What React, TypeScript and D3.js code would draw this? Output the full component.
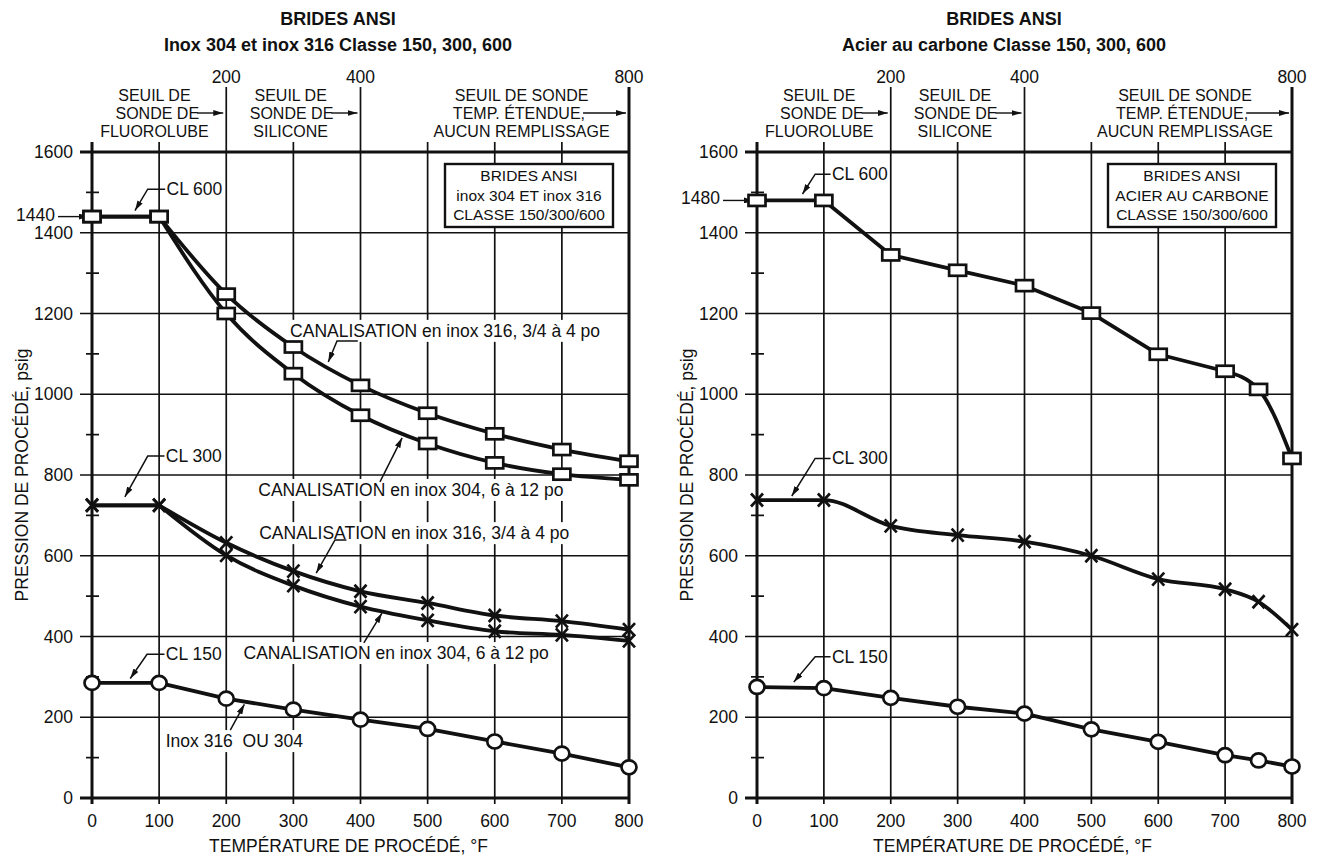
import React from "react";
import * as d3 from "d3";

// temperatures (°F)
const tempsL = [0, 100, 200, 300, 400, 500, 600, 700, 800];
const tempsR = [0, 100, 200, 300, 400, 500, 600, 700, 750, 800];

// axis ticks
const xTicks = [0, 100, 200, 300, 400, 500, 600, 700, 800];
const topLong = [200, 400, 800];
const yTicks = [0, 200, 400, 600, 800, 1000, 1200, 1400, 1600];
const yMinor = [100, 300, 500, 700, 900, 1100, 1300, 1500];

// left chart: inox 304 / 316 (psig)
const ss316Cl600 = [1440, 1440, 1248, 1117, 1022, 953, 902, 863, 834];
const ss304Cl600 = [1440, 1440, 1200, 1051, 948, 878, 830, 802, 788];
const ss316Cl300 = [725, 725, 632, 562, 512, 483, 452, 438, 417];
const ss304Cl300 = [725, 725, 601, 526, 474, 440, 413, 404, 389];
const ssCl150 = [285, 285, 246, 219, 194, 171, 140, 110, 76];

// right chart: acier au carbone (psig)
const csCl600 = [1480, 1480, 1345, 1307, 1269, 1201, 1099, 1057, 1012, 841];
const csCl300 = [738, 738, 674, 651, 635, 600, 542, 517, 486, 417];
const csCl150 = [275, 272, 248, 226, 209, 170, 139, 106, 93, 78];

const FONT = "'Liberation Sans', Arial, Helvetica, sans-serif";
const FS = 17.5;
const HFS = 16;
const OY = 152;
const H = 646;

let ctx: CanvasRenderingContext2D | null = null;
function textW(s: string, size: number) {
  if (!ctx) ctx = document.createElement("canvas").getContext("2d");
  if (!ctx) return s.length * size * 0.55;
  ctx.font = `${size}px ${FONT}`;
  return ctx.measureText(s).width;
}

type Part = [number, number, "lin" | "mono"];
type Series = { temps: number[]; values: number[]; marker: "sq" | "x" | "o"; parts: Part[] };
type Note = { text: string; at: [number, number]; path: [number, number][]; center?: boolean; bg?: boolean };
type Header = { at: number; lines: string[]; arrowFrom: number; arrowTo: number };

const leftSeries: Series[] = [
  { temps: tempsL, values: ss316Cl600, marker: "sq", parts: [[0, 1, "lin"], [1, 8, "mono"]] },
  { temps: tempsL, values: ss304Cl600, marker: "sq", parts: [[0, 1, "lin"], [1, 8, "mono"]] },
  { temps: tempsL, values: ss316Cl300, marker: "x", parts: [[0, 1, "lin"], [1, 8, "mono"]] },
  { temps: tempsL, values: ss304Cl300, marker: "x", parts: [[0, 1, "lin"], [1, 8, "mono"]] },
  { temps: tempsL, values: ssCl150, marker: "o", parts: [[0, 8, "lin"]] },
];

const rightSeries: Series[] = [
  { temps: tempsR, values: csCl600, marker: "sq", parts: [[0, 7, "lin"], [7, 9, "mono"]] },
  { temps: tempsR, values: csCl300, marker: "x", parts: [[0, 9, "mono"]] },
  { temps: tempsR, values: csCl150, marker: "o", parts: [[0, 9, "lin"]] },
];

const leftNotes: Note[] = [
  { text: "CL 600", at: [111, 1508], path: [[109, 1508], [83, 1508], [64, 1455]] },
  { text: "CL 300", at: [110, 847], path: [[108, 847], [83, 847], [49, 746]] },
  { text: "CL 150", at: [110, 356], path: [[108, 356], [82, 356], [57, 296]] },
  { text: "CANALISATION en inox 316, 3/4 à 4 po", at: [526, 1157], center: true, bg: true, path: [[396, 1132], [365, 1132], [352, 1080]] },
  { text: "CANALISATION en inox 304, 6 à 12 po", at: [475, 763], center: true, bg: true, path: [[429, 783], [462, 892]] },
  { text: "CANALISATION en inox 316, 3/4 à 4 po", at: [480, 656], center: true, bg: true, path: [[379, 639], [362, 639], [334, 557]] },
  { text: "CANALISATION en inox 304, 6 à 12 po", at: [453, 359], center: true, bg: true, path: [[405, 384], [432, 458]] },
  { text: "Inox 316\u00A0 OU 304", at: [212, 141], center: true, bg: true, path: [[206, 168], [227, 232]] },
];

const rightNotes: Note[] = [
  { text: "CL 600", at: [112, 1545], path: [[110, 1545], [87, 1545], [68, 1496]] },
  { text: "CL 300", at: [112, 841], path: [[110, 841], [87, 841], [52, 748]] },
  { text: "CL 150", at: [112, 350], path: [[110, 350], [87, 350], [55, 287]] },
];

const headers: Header[] = [
  { at: 93, lines: ["SEUIL DE", "SONDE DE", "FLUOROLUBE"], arrowFrom: 161, arrowTo: 200 },
  { at: 296, lines: ["SEUIL DE", "SONDE DE", "SILICONE"], arrowFrom: 361, arrowTo: 400 },
  { at: 640, lines: ["SEUIL DE SONDE", "TEMP. ÉTENDUE,", "AUCUN REMPLISSAGE"], arrowFrom: 736, arrowTo: 800 },
];

function Marker({ kind, x, y }: { kind: string; x: number; y: number }) {
  if (kind === "sq")
    return <rect x={x - 8.5} y={y - 5.5} width={17} height={11} fill="#fff" stroke="#111" strokeWidth={2.7} />;
  if (kind === "o")
    return <ellipse cx={x} cy={y} rx={7.5} ry={7} fill="#fff" stroke="#111" strokeWidth={2.7} />;
  return (
    <path d={`M${x - 6},${y - 6.5}L${x + 6},${y + 6.5}M${x - 6},${y + 6.5}L${x + 6},${y - 6.5}`} stroke="#111" strokeWidth={2.7} />
  );
}

function Panel(props: {
  ox: number; w: number; title: string; titleX: number; legend: string[]; press: number;
  series: Series[]; notes: Note[];
}) {
  const { ox, w, title, titleX, legend, press, series, notes } = props;
  const x = d3.scaleLinear().domain([0, 800]).range([0, w]);
  const y = d3.scaleLinear().domain([0, 1600]).range([H, 0]);
  const lin = d3.line<[number, number]>().x((d) => x(d[0])).y((d) => y(d[1]));
  const mono = d3.line<[number, number]>().x((d) => x(d[0])).y((d) => y(d[1])).curve(d3.curveMonotoneX);

  return (
    <g fontFamily={FONT} fill="#111">
      <text x={titleX} y={25} textAnchor="middle" fontWeight="bold" fontSize={18}>BRIDES ANSI</text>
      <text x={titleX} y={51} textAnchor="middle" fontWeight="bold" fontSize={18}>{title}</text>
      <g transform={`translate(${ox},${OY})`}>
        {/* grid */}
        {xTicks.map((t) => (
          <line key={"vx" + t} x1={x(t)} x2={x(t)} y1={topLong.includes(t) ? -65 : -10} y2={H + 6}
            stroke="#111" strokeWidth={t === 0 || t === 800 ? 3 : 1.7} />
        ))}
        {yTicks.map((t) => (
          <line key={"hy" + t} x1={-12} x2={w} y1={y(t)} y2={y(t)} stroke="#111"
            strokeWidth={t === 0 || t === 1600 ? 3.2 : 1.7} />
        ))}
        {yMinor.map((t) => (
          <line key={"my" + t} x1={-6} x2={7} y1={y(t)} y2={y(t)} stroke="#111" strokeWidth={1.7} />
        ))}
        {/* axis labels */}
        {xTicks.map((t) => (
          <text key={"xl" + t} x={x(t)} y={H + 29} textAnchor="middle" fontSize={FS}>{t}</text>
        ))}
        {topLong.map((t) => (
          <text key={"tl" + t} x={x(t)} y={-69} textAnchor="middle" fontSize={FS}>{t}</text>
        ))}
        {yTicks.map((t) => (
          <text key={"yl" + t} x={-19} y={y(t) + 6} textAnchor="end" fontSize={FS}>{t}</text>
        ))}
        <text x={w / 2 - 12} y={H + 54} textAnchor="middle" fontSize={FS}>TEMPÉRATURE DE PROCÉDÉ, °F</text>
        <text transform={`translate(${-64},${H / 2}) rotate(-90)`} textAnchor="middle" fontSize={FS}>
          PRESSION DE PROCÉDÉ, psig
        </text>
        <text x={-37} y={y(press) + 4} textAnchor="end" fontSize={FS}>{press}</text>
        <line x1={-34} x2={-3} y1={y(press)} y2={y(press)} stroke="#111" strokeWidth={1.4} markerEnd="url(#arr)" />
        {/* region headers */}
        {headers.map((h, i) => (
          <g key={"hd" + i} fontSize={HFS}>
            <text x={x(h.at)} y={-51} textAnchor="middle">{h.lines[0]}</text>
            <text x={x(h.arrowFrom) - 1} y={-33} textAnchor="end">{h.lines[1]}</text>
            <text x={x(h.at)} y={-15} textAnchor="middle">{h.lines[2]}</text>
            <line x1={x(h.arrowFrom) - 3} x2={x(h.arrowTo) - 3} y1={-39} y2={-39} stroke="#111" strokeWidth={1.4} markerEnd="url(#arr)" />
          </g>
        ))}
        {/* legend box */}
        <rect x={w - 184} y={12} width={168} height={63} fill="#fff" stroke="#111" strokeWidth={2.4} />
        {legend.map((s, i) => (
          <text key={"lg" + i} x={w - 100} y={29 + i * 19.5} textAnchor="middle" fontSize={15.5}>{s}</text>
        ))}
        {/* notes */}
        {notes.map((n, i) => {
          const tx = x(n.at[0]);
          const ty = y(n.at[1]);
          const tw = textW(n.text, FS);
          return (
            <g key={"nt" + i}>
              {n.bg && <rect x={tx - tw / 2 - 3} y={ty - 11} width={tw + 6} height={22} fill="#fff" />}
              <text x={tx} y={ty + 6} textAnchor={n.center ? "middle" : "start"} fontSize={FS}>{n.text}</text>
              <path d={lin(n.path as [number, number][]) || ""} fill="none" stroke="#111" strokeWidth={1.5} markerEnd="url(#arr)" />
            </g>
          );
        })}
        {/* series */}
        {series.map((s, i) => {
          const pts: [number, number][] = s.temps.map((t, j) => [t, s.values[j]]);
          return (
            <g key={"s" + i}>
              {s.parts.map(([a, b, c], k) => (
                <path key={k} d={(c === "mono" ? mono : lin)(pts.slice(a, b + 1)) || ""} fill="none"
                  stroke="#111" strokeWidth={3.8} strokeLinejoin="round" />
              ))}
            </g>
          );
        })}
        {series.map((s, i) => (
          <g key={"m" + i}>
            {s.temps.map((t, j) => (
              <Marker key={j} kind={s.marker} x={x(t)} y={y(s.values[j])} />
            ))}
          </g>
        ))}
      </g>
    </g>
  );
}

export default function App() {
  return (
    <svg width={1323} height={859} style={{ position: "absolute", left: 0, top: 0, background: "#fff" }}>
      <defs>
        <marker id="arr" viewBox="0 0 10 6" refX={10} refY={3} markerWidth={10} markerHeight={6}
          markerUnits="userSpaceOnUse" orient="auto">
          <path d="M0,0L10,3L0,6z" fill="#111" />
        </marker>
      </defs>
      <rect width={1323} height={859} fill="#fff" />
      <Panel ox={92} w={537} title="Inox 304 et inox 316 Classe 150, 300, 600" titleX={338}
        legend={["BRIDES ANSI", "inox 304 ET inox 316", "CLASSE 150/300/600"]} press={1440}
        series={leftSeries} notes={leftNotes} />
      <Panel ox={757} w={535} title="Acier au carbone Classe 150, 300, 600" titleX={1004}
        legend={["BRIDES ANSI", "ACIER AU CARBONE", "CLASSE 150/300/600"]} press={1480}
        series={rightSeries} notes={rightNotes} />
    </svg>
  );
}
